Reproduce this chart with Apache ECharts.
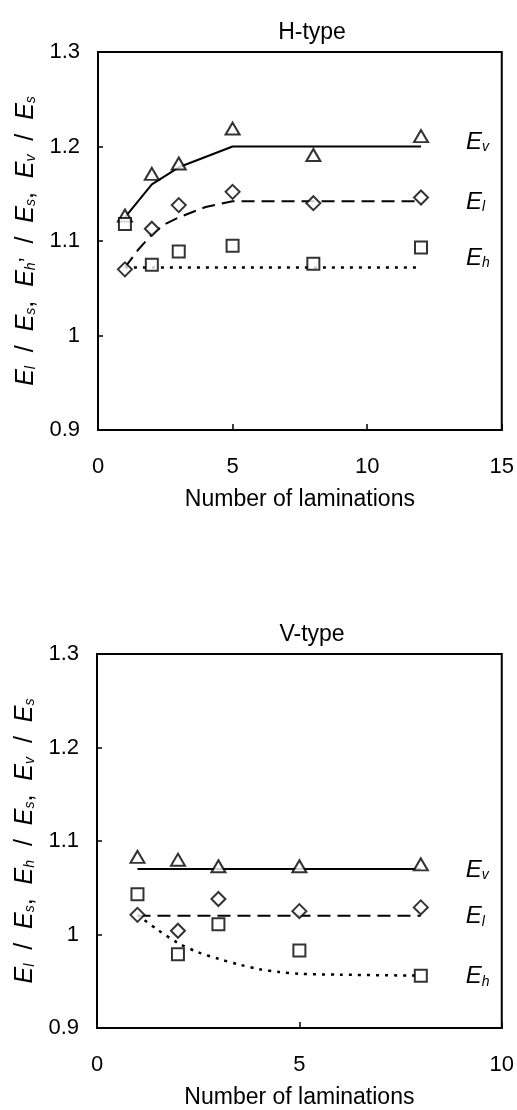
<!DOCTYPE html>
<html>
<head>
<meta charset="utf-8">
<script src="https://cdn.jsdelivr.net/npm/echarts@6/dist/echarts.min.js"></script>
<style>
  html, body { margin: 0; padding: 0; background: #fff; }
  #chart { width: 517px; height: 1110px; }
</style>
</head>
<body>
<div id="chart"></div>
<script>
// H-type: measured ratios against number of laminations
const hX = [1, 2, 3, 5, 8, 12];
const hEv = [1.127, 1.171, 1.182, 1.219, 1.191, 1.211];
const hEl = [1.070, 1.113, 1.138, 1.152, 1.140, 1.146];
const hEh = [1.118, 1.075, 1.089, 1.095, 1.076, 1.093];

// H-type: predicted curves
const hEvFitX = [1, 2, 3, 5, 12];
const hEvFit = [1.125, 1.160, 1.178, 1.200, 1.200];
const hElFitX = [1, 1.5, 2, 2.5, 3, 4, 5, 12];
const hElFit = [1.072, 1.091, 1.107, 1.118, 1.125, 1.136, 1.142, 1.142];
const hEhFitX = [1, 12];
const hEhFit = [1.072, 1.072];

// V-type: measured ratios
const vX = [1, 2, 3, 5, 8];
const vEv = [1.083, 1.080, 1.073, 1.073, 1.075];
const vEl = [1.021, 1.004, 1.038, 1.025, 1.029];
const vEh = [1.043, 0.979, 1.011, 0.983, 0.956];

// V-type: predicted curves
const vEvFitX = [1, 8];
const vEvFit = [1.070, 1.070];
const vElFitX = [1, 8];
const vElFit = [1.020, 1.020];
const vEhFitX = [1, 1.5, 2, 2.5, 3, 3.5, 4, 4.5, 5, 6, 8];
const vEhFit = [1.021, 1.005, 0.991, 0.981, 0.974, 0.968, 0.963, 0.960, 0.958, 0.957, 0.956];

// Axis ticks
const yMin = 0.9, yMax = 1.3, yStep = 0.1;
const hXMax = 15, vXMax = 10, xStep = 5;

const titles = ['H-type', 'V-type'];
const xName = 'Number of laminations';
const curveNames = { v: 'v', l: 'l', h: 'h' };

const FONT = 'Liberation Sans';
const pair = (xs, ys) => xs.map((x, i) => [x, ys[i]]);

const richStyles = {
  e: { fontFamily: FONT, fontStyle: 'italic', fontSize: 25, color: '#000', lineHeight: 28, verticalAlign: 'bottom' },
  s: { fontFamily: FONT, fontStyle: 'italic', fontSize: 14, color: '#000', lineHeight: 21, verticalAlign: 'bottom' },
  t: { fontFamily: FONT, fontSize: 25, color: '#000', lineHeight: 28, verticalAlign: 'bottom' },
  p: { fontFamily: FONT, fontSize: 22, color: '#000', lineHeight: 34, verticalAlign: 'bottom' }
};
const labelRich = {
  e: { fontFamily: FONT, fontStyle: 'italic', fontSize: 24, color: '#000', lineHeight: 26, verticalAlign: 'bottom' },
  s: { fontFamily: FONT, fontStyle: 'italic', fontSize: 14, color: '#000', lineHeight: 20, verticalAlign: 'bottom' }
};

const SL = '{t|  /  }';
const CM = '{t|,  }';
const yNameH = '{e|E}{s|l}' + SL + '{e|E}{s|s}' + CM + '{e|E}{s|h}{p|\u2019}' + SL + '{e|E}{s|s}' + CM + '{e|E}{s|v}' + SL + '{e|E}{s|s}';
const yNameV = '{e|E}{s|l}' + SL + '{e|E}{s|s}' + CM + '{e|E}{s|h}' + SL + '{e|E}{s|s}' + CM + '{e|E}{s|v}' + SL + '{e|E}{s|s}';

function xAxisFor(gridIndex, max) {
  return {
    type: 'value', gridIndex, min: 0, max, interval: xStep,
    name: xName, nameLocation: 'middle', nameGap: 58,
    nameTextStyle: { fontFamily: FONT, fontSize: 23, color: '#000' },
    axisLine: { lineStyle: { color: '#000', width: 2 } },
    axisTick: { inside: true, length: 6, lineStyle: { color: '#000', width: 1.5 } },
    axisLabel: { fontFamily: FONT, fontSize: 22, color: '#000', margin: 26 },
    splitLine: { show: false }
  };
}

function yAxisFor(gridIndex, name) {
  return {
    type: 'value', gridIndex, min: yMin, max: yMax, interval: yStep,
    name, nameLocation: 'middle', nameGap: 58, nameRotate: 90,
    nameTextStyle: { rich: richStyles },
    axisLine: { lineStyle: { color: '#000', width: 2 } },
    axisTick: { inside: true, length: 5, lineStyle: { color: '#000', width: 1.5 } },
    axisLabel: { fontFamily: FONT, fontSize: 22, color: '#000', margin: 18 },
    splitLine: { show: false }
  };
}

function marks(idx, data, symbol, size) {
  return {
    type: 'scatter', xAxisIndex: idx, yAxisIndex: idx, data,
    symbol, symbolSize: size, z: 5,
    itemStyle: { color: '#fff', borderColor: '#000', borderWidth: 2 }
  };
}

function fitLine(idx, data, sub, width, dash, smooth, offsetY) {
  return {
    type: 'line', xAxisIndex: idx, yAxisIndex: idx, data,
    showSymbol: false, smooth, z: 3,
    lineStyle: { color: '#000', width, type: dash },
    endLabel: {
      show: true, distance: 45, offset: [0, offsetY],
      formatter: '{e|E}{s|' + sub + '}', rich: labelRich
    },
    silent: true
  };
}

const chart = echarts.init(document.getElementById('chart'), null, { renderer: 'canvas' });

chart.setOption({
  animation: false,
  backgroundColor: '#fff',
  title: [
    { text: titles[0], left: 307, top: 16, textAlign: 'center',
      textStyle: { fontFamily: FONT, fontSize: 23, fontWeight: 'normal', color: '#000' } },
    { text: titles[1], left: 307, top: 618, textAlign: 'center',
      textStyle: { fontFamily: FONT, fontSize: 23, fontWeight: 'normal', color: '#000' } }
  ],
  grid: [
    { left: 98, top: 52, width: 404, height: 378, show: true, borderColor: '#000', borderWidth: 2 },
    { left: 97, top: 654, width: 407, height: 378, show: true, borderColor: '#000', borderWidth: 2 }
  ],
  xAxis: [xAxisFor(0, hXMax), xAxisFor(1, vXMax)],
  yAxis: [yAxisFor(0, yNameH), yAxisFor(1, yNameV)],
  series: [
    fitLine(0, pair(hEvFitX, hEvFit), curveNames.v, 2, 'solid', false, -5),
    fitLine(0, pair(hElFitX, hElFit), curveNames.l, 2, [13, 7], false, 0),
    fitLine(0, pair(hEhFitX, hEhFit), curveNames.h, 2.5, [3, 6], false, -10),
    marks(0, pair(hX, hEv), 'triangle', [14, 12]),
    marks(0, pair(hX, hEl), 'diamond', [14, 14]),
    marks(0, pair(hX, hEh), 'rect', [12, 12]),

    fitLine(1, pair(vEvFitX, vEvFit), curveNames.v, 2, 'solid', false, 0),
    fitLine(1, pair(vElFitX, vElFit), curveNames.l, 2, [13, 7], false, 0),
    fitLine(1, pair(vEhFitX, vEhFit), curveNames.h, 2.5, [3, 6], 0.3, 0),
    marks(1, pair(vX, vEv), 'triangle', [14, 12]),
    marks(1, pair(vX, vEl), 'diamond', [14, 14]),
    marks(1, pair(vX, vEh), 'rect', [12, 12])
  ]
});
</script>
</body>
</html>
